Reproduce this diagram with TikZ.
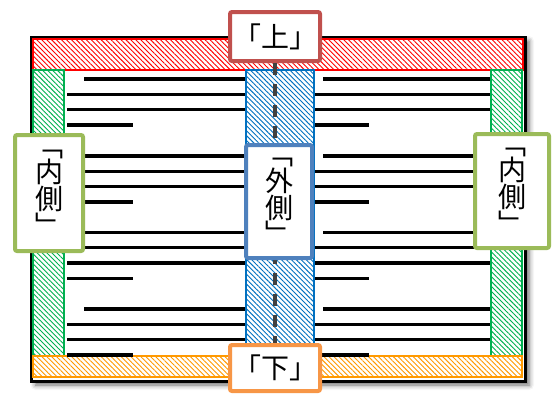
\documentclass[tikz,border=0pt]{standalone}
\usepackage{fontspec}
\newfontfamily\jp{Noto Sans CJK JP}
\usetikzlibrary{patterns.meta,shadows.blur}
\definecolor{upc}{HTML}{C0504D}
\definecolor{midc}{HTML}{4F81BD}
\definecolor{downc}{HTML}{F79646}
\definecolor{sidec}{HTML}{9BBB59}
\definecolor{bandgreen}{HTML}{00B050}
\definecolor{bandblue}{HTML}{0070C0}
\definecolor{bandorange}{HTML}{FF9900}
\definecolor{dashc}{HTML}{404040}
\begin{document}
\begin{tikzpicture}[x=1pt,y=-1pt,
  lbl/.style={draw, line width=4pt, fill=white, rounded corners=2pt, inner sep=0pt,
    font=\jp\fontsize{28}{25}\selectfont, align=center},
  band/.style={line width=1.2pt, draw=#1,
    pattern={Lines[angle=-45,distance=3.5pt,line width=0.9pt]}, pattern color=#1},
  txt/.style={line width=3.3pt, black},
  dashline/.style={line width=4pt, dashc, dash pattern=on 12pt off 9pt}]
\useasboundingbox (0,0) rectangle (552,394);
% frame
\draw[line width=3pt, fill=white,
  blur shadow={shadow xshift=4pt, shadow yshift=-4pt, shadow blur radius=5pt, shadow opacity=60}]
  (31.5,37) rectangle (525,381);
% bands
\path[band=red] (33,39) rectangle (523,70);
\path[band=bandgreen] (33,70) rectangle (64,356);
\path[band=bandgreen] (491,70) rectangle (522,356);
\path[band=bandorange] (33,356) rectangle (522,377);
% text lines
\foreach \y in {79,156,232.5,309}{
  \draw[txt] (84,\y) -- (246,\y);
  \draw[txt] (67,{\y+15.3}) -- (246,{\y+15.3});
  \draw[txt] (67,{\y+30.6}) -- (246,{\y+30.6});
  \draw[txt] (67,{\y+46}) -- (133,{\y+46});
  \draw[txt] (323,\y) -- (490,\y);
  \draw[txt] (315,{\y+15.3}) -- (490,{\y+15.3});
  \draw[txt] (315,{\y+30.6}) -- (490,{\y+30.6});
  \draw[txt] (315,{\y+46}) -- (369,{\y+46});
}
% center column
\path[band=bandblue] (246,70) rectangle (314,356);
% labels
\node[lbl, draw=upc, minimum width=90pt, minimum height=49pt] (up) at (275,36.5) {「上」};
\node[lbl, draw=downc, minimum width=90pt, minimum height=46pt] (down) at (275,368) {「下」};
\draw[dashline] (up.south) -- (down.north);
\node[lbl, draw=midc, minimum width=66pt, minimum height=113pt] (mid) at (279,201.5) {﹁\\外\\側\\﹂};
\node[lbl, draw=sidec, minimum width=68pt, minimum height=116pt] (left) at (49,193) {﹁\\内\\側\\﹂};
\node[lbl, draw=sidec, minimum width=74pt, minimum height=114pt] (right) at (512,191) {﹁\\内\\側\\﹂};
\end{tikzpicture}
\end{document}
